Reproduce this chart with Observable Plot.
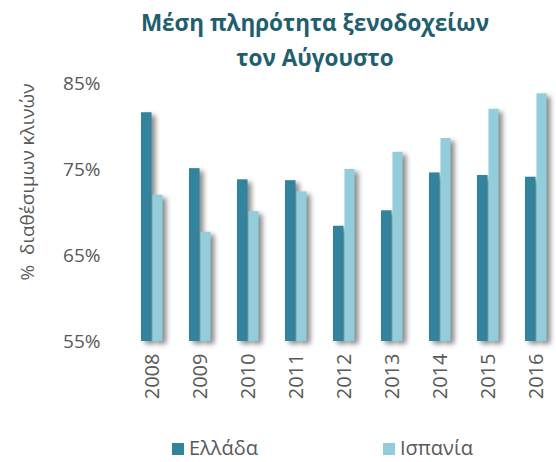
<!DOCTYPE html>
<html>
<head>
<meta charset="utf-8">
<script src="https://cdn.jsdelivr.net/npm/d3@7"></script>
<script src="https://cdn.jsdelivr.net/npm/@observablehq/plot@0.6"></script>
<style>
  html, body { margin: 0; padding: 0; background: #fff; }
  #wrap { position: relative; width: 556px; height: 462px; overflow: hidden; font-family: "Open Sans", sans-serif; }
  #title { position: absolute; left: 100px; width: 430px; top: 5px; text-align: center; color: #215E6E; font-weight: bold; font-size: 22.5px; line-height: 35px; }
  #ylabel { position: absolute; left: 27px; top: 182px; transform: translate(-50%, -50%) rotate(-90deg); white-space: nowrap; color: #595959; font-size: 19px; }
  #legend { position: absolute; top: 435px; left: 0; width: 556px; height: 26px; color: #595959; font-size: 20px; line-height: 26px; }
  .item { position: absolute; top: 0; white-space: nowrap; }
  .sw { display: inline-block; width: 12px; height: 12px; margin-right: 5px; vertical-align: 0px; }
  #chart { position: absolute; left: 0; top: 0; }
</style>
</head>
<body>
<div id="wrap">
  <div id="chart"></div>
  <div id="title">Μέση πληρότητα ξενοδοχείων<br>τον Αύγουστο</div>
  <div id="ylabel">%&nbsp; διαθέσιμων κλινών</div>
  <div id="legend"></div>
</div>
<script>
const years = ["2008","2009","2010","2011","2012","2013","2014","2015","2016"];
const greece = [81.6, 75.1, 73.8, 73.7, 68.4, 70.2, 74.6, 74.3, 74.1];
const spain  = [72.0, 67.7, 70.1, 72.4, 75.0, 77.0, 78.6, 82.0, 83.8];
const seriesNames = ["Ελλάδα", "Ισπανία"];
const seriesColors = ["#31849B", "#92CDDC"];
const yTicks = [55, 65, 75, 85];

const rowsG = years.map((y, i) => ({year: y, value: greece[i]}));
const rowsS = years.map((y, i) => ({year: y, value: spain[i]}));

const chart = Plot.plot({
  width: 556,
  height: 462,
  marginTop: 83,
  marginBottom: 121,
  marginLeft: 124,
  marginRight: 0,
  style: { fontFamily: "Open Sans, sans-serif", background: "transparent", overflow: "visible" },
  x: { domain: years, range: [124, 564], padding: 0, label: null },
  y: { domain: [55, 85], label: null, ticks: yTicks, tickFormat: d => d + "%" },
  marks: [
    Plot.barY(rowsG, { x: "year", y1: 55, y2: "value", fill: seriesColors[0], insetLeft: 13, insetRight: 24.5, className: "bars" }),
    Plot.barY(rowsS, { x: "year", y1: 55, y2: "value", fill: seriesColors[1], insetLeft: 24.5, insetRight: 13.5, className: "bars" }),
    Plot.ruleY([55], { x1: years[0], stroke: "#D9D9D9", strokeWidth: 1.2 }),
    Plot.axisX({ tickSize: 0, tickPadding: 12, tickRotate: -90, fontSize: 20, color: "#595959", label: null }),
    Plot.axisY({ ticks: yTicks, tickFormat: d => d + "%", tickSize: 0, tickPadding: 24, fontSize: 19, color: "#595959", label: null })
  ]
});
document.getElementById("chart").appendChild(chart);
d3.select(chart).selectAll("g.bars").style("filter", "drop-shadow(4px 3px 2.5px rgba(0,0,0,0.45))");

const legend = document.getElementById("legend");
const lx = [172, 383];
seriesNames.forEach((n, i) => {
  const d = document.createElement("div");
  d.className = "item";
  d.style.left = lx[i] + "px";
  d.innerHTML = `<span class="sw" style="background:${seriesColors[i]}"></span>${n}`;
  legend.appendChild(d);
});
</script>
</body>
</html>
